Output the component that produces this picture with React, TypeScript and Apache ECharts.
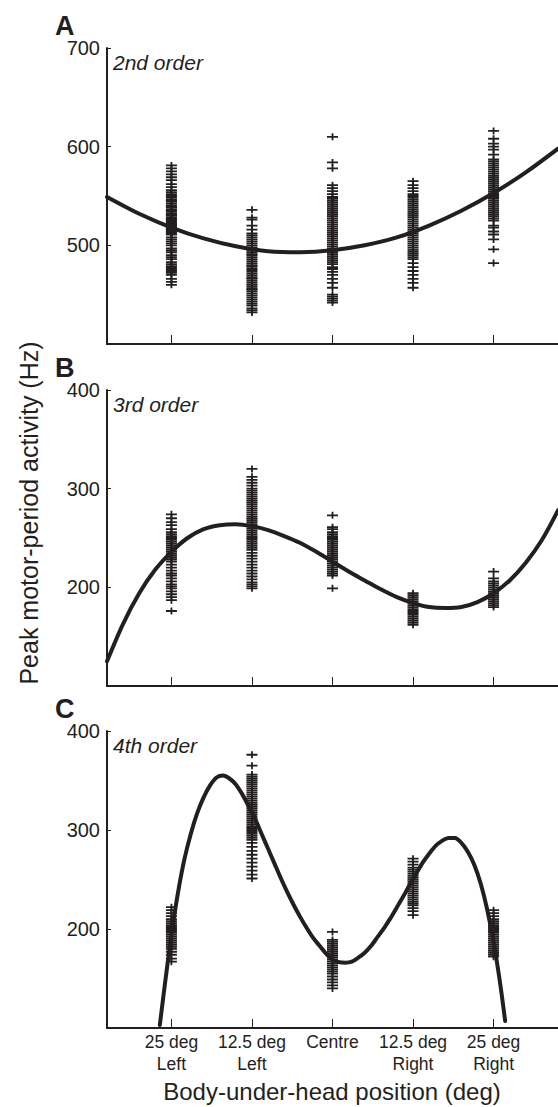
import React, { useEffect, useRef } from "react";
import * as echarts from "echarts";

// x positions (deg, left negative) and their labels
const positionsDeg = [-25, -12.5, 0, 12.5, 25];
const positionLabels = ["25 deg\nLeft", "12.5 deg\nLeft", "Centre", "12.5 deg\nRight", "25 deg\nRight"];

// Panel A (2nd order) raw peaks, Hz
const aLeft25 = [581, 578, 575, 572, 569, 566, 562, 559, 556, 554, 552, 550, 548, 546, 545, 544, 542, 540, 539, 538, 536, 535, 534, 532, 531, 530, 528, 527, 526, 525, 524, 523, 522, 521, 520, 519, 518, 517, 516, 515, 514, 513, 512, 511, 508, 506, 504, 502, 500, 497, 495, 493, 490, 488, 486, 483, 481, 479, 478, 476, 474, 472, 470, 466, 463, 460];
const aLeft12 = [536, 528, 526, 520, 516, 512, 510, 508, 506, 504, 502, 500, 498, 497, 495, 493, 491, 490, 488, 486, 484, 482, 480, 479, 477, 475, 473, 471, 469, 467, 466, 464, 462, 460, 458, 456, 455, 453, 451, 449, 447, 445, 443, 441, 439, 436, 434, 432];
const aCentre = [610, 584, 578, 561, 558, 555, 552, 549, 547, 545, 543, 541, 539, 537, 535, 533, 531, 529, 527, 525, 523, 521, 519, 517, 515, 513, 511, 509, 507, 505, 503, 501, 499, 497, 495, 493, 491, 489, 487, 485, 483, 481, 478, 476, 473, 470, 466, 462, 457, 450, 448, 446, 444, 442];
const aRight12 = [565, 561, 558, 555, 552, 550, 548, 546, 544, 542, 540, 538, 536, 534, 532, 530, 528, 526, 524, 522, 520, 518, 516, 514, 512, 510, 508, 506, 504, 502, 500, 498, 496, 494, 492, 490, 488, 486, 482, 478, 474, 470, 466, 462, 457];
const aRight25 = [616, 608, 603, 600, 597, 592, 587, 585, 583, 581, 579, 577, 575, 573, 571, 569, 567, 565, 563, 561, 559, 557, 555, 553, 551, 549, 547, 545, 543, 541, 539, 537, 535, 533, 531, 529, 527, 525, 520, 518, 514, 511, 506, 496, 482];

// Panel B (3rd order)
const bLeft25 = [274, 270, 266, 263, 259, 256, 254, 252, 250, 248, 246, 244, 242, 240, 238, 236, 234, 232, 230, 228, 226, 223, 220, 217, 214, 212, 209, 206, 203, 201, 199, 196, 193, 190, 187, 176];
const bLeft12 = [320, 312, 309, 306, 303, 300, 298, 296, 294, 292, 290, 288, 286, 284, 282, 280, 278, 276, 274, 272, 270, 268, 266, 264, 262, 260, 258, 256, 254, 252, 250, 248, 246, 244, 242, 240, 238, 235, 232, 229, 226, 223, 220, 217, 214, 211, 208, 205, 203, 201, 199];
const bCentre = [273, 261, 259, 256, 254, 252, 250, 248, 246, 244, 242, 240, 238, 236, 234, 232, 230, 228, 226, 224, 222, 220, 218, 216, 214, 212, 199];
const bRight12 = [194, 192, 190, 188, 186, 184, 182, 180, 178, 176, 174, 172, 170, 168, 166, 164, 162];
const bRight25 = [216, 209, 206, 204, 202, 200, 198, 196, 194, 192, 190, 188, 186, 184, 182, 180];

// Panel C (4th order)
const cLeft25 = [222, 219, 216, 213, 210, 208, 206, 204, 202, 200, 198, 196, 194, 192, 190, 188, 186, 184, 182, 180, 177, 174, 170, 167];
const cLeft12 = [376, 365, 356, 354, 352, 350, 348, 346, 344, 342, 340, 338, 336, 334, 332, 330, 328, 326, 324, 322, 320, 318, 316, 314, 312, 310, 308, 306, 304, 302, 300, 298, 296, 294, 292, 290, 287, 283, 279, 275, 271, 267, 263, 259, 255, 251];
const cCentre = [197, 189, 187, 185, 183, 181, 179, 177, 175, 173, 171, 169, 167, 165, 163, 161, 159, 157, 155, 152, 149, 146, 143, 140];
const cRight12 = [271, 268, 265, 262, 260, 258, 256, 254, 252, 250, 248, 246, 244, 242, 240, 238, 236, 234, 232, 230, 228, 226, 224, 221, 218, 214];
const cRight25 = [219, 216, 213, 210, 208, 206, 204, 202, 200, 198, 196, 194, 192, 190, 188, 186, 184, 182, 180, 178, 176, 174, 172];

// Fitted curves
const curveAX = [-35, -30, -25, -20, -15, -10, -5, 0, 5, 10, 15, 20, 25, 30, 35];
const curveAY = [549, 532, 518, 507, 499, 494, 493, 495, 500, 508, 520, 535, 553, 574, 598];
const curveBX = [-35, -32.5, -30, -27.5, -25, -22.5, -20, -17.5, -15, -12.5, -10, -7.5, -5, -2.5, 0, 2.5, 5, 7.5, 10, 12.5, 15, 17.5, 20, 22.5, 25, 27.5, 30, 32.5, 35];
const curveBY = [125, 163, 194, 218, 236, 250, 259, 263, 264, 262, 258, 252, 245, 236, 226, 216, 207, 198, 190, 184, 180, 179, 180, 185, 194, 207, 225, 248, 278];
const curveCX = [-26.8, -26, -25, -24, -23, -22, -21, -20, -19, -18, -17, -16, -15, -14, -13, -12, -11, -10, -9, -8, -7, -6, -5, -4, -3, -2, -1, 0, 1, 2, 3, 4, 5, 6, 7, 8, 9, 10, 11, 12, 13, 14, 15, 16, 17, 18, 19, 20, 21, 22, 23, 24, 25, 26, 26.8];
const curveCY = [103, 145, 194, 236, 270, 296, 317, 333, 345, 353, 355, 352, 346, 336, 324, 311, 296, 281, 266, 251, 237, 224, 212, 201, 191, 183, 175, 169, 166.5, 166, 167, 171, 176, 183, 192, 201, 211, 222, 233, 245, 256, 267, 276, 284, 289, 292, 292, 287, 278, 265, 246, 220, 187, 146, 107];

const panelTitles = ["2nd order", "3rd order", "4th order"];
const panelLetters = ["A", "B", "C"];
const yMins = [400, 100, 100];
const yMaxs = [700, 400, 400];

const INK = "#231f20";
const FONT = "'Liberation Sans', Arial, Helvetica, sans-serif";
const PLUS = "path://M0,2.6H11V4.4H0Z M4.6,0H6.4V7H4.6Z";

export default function App() {
  const ref = useRef<HTMLDivElement>(null);
  useEffect(() => {
    document.body.style.margin = "0";
    if (!ref.current) return;
    const chart = echarts.init(ref.current, undefined, { renderer: "svg" });

    const grids = [
      { left: 107, top: 48, width: 451, height: 296 },
      { left: 107, top: 390, width: 451, height: 296 },
      { left: 107, top: 731, width: 451, height: 297 },
    ];
    const columnsByPanel = [
      [aLeft25, aLeft12, aCentre, aRight12, aRight25],
      [bLeft25, bLeft12, bCentre, bRight12, bRight25],
      [cLeft25, cLeft12, cCentre, cRight12, cRight25],
    ];
    const curves = [
      [curveAX, curveAY],
      [curveBX, curveBY],
      [curveCX, curveCY],
    ];

    const xAxis = grids.map((_, i) => ({
      type: "value",
      gridIndex: i,
      min: -35,
      max: 35,
      splitLine: { show: false },
      axisLine: { show: true, onZero: false, lineStyle: { color: INK, width: 2 } },
      axisTick: {
        show: true,
        inside: true,
        length: 9,
        customValues: positionsDeg,
        lineStyle: { color: INK, width: 1 },
      },
      axisLabel: {
        show: i === 2,
        customValues: positionsDeg,
        formatter: (v: number) => {
          const k = positionsDeg.indexOf(v);
          return k >= 0 ? positionLabels[k] : "";
        },
        fontFamily: FONT,
        fontSize: 17.5,
        lineHeight: 22,
        color: INK,
        margin: 3,
      },
    }));

    const yAxis = grids.map((_, i) => ({
      type: "value",
      gridIndex: i,
      min: yMins[i],
      max: yMaxs[i],
      interval: 100,
      splitLine: { show: false },
      axisLine: { show: true, onZero: false, lineStyle: { color: INK, width: 2 } },
      axisTick: { show: true, inside: true, length: 4, lineStyle: { color: INK, width: 1 } },
      axisLabel: {
        showMinLabel: false,
        fontFamily: FONT,
        fontSize: 20,
        color: INK,
        margin: 7,
      },
    }));

    const series: any[] = [];
    columnsByPanel.forEach((cols, p) => {
      const pts: number[][] = [];
      cols.forEach((vals, k) => vals.forEach((v) => pts.push([positionsDeg[k], v])));
      series.push({
        type: "scatter",
        xAxisIndex: p,
        yAxisIndex: p,
        data: pts,
        symbol: PLUS,
        symbolSize: [11, 7],
        itemStyle: { color: INK, opacity: 1 },
        z: 2,
        silent: true,
      });
      const [cx, cy] = curves[p];
      series.push({
        type: "line",
        xAxisIndex: p,
        yAxisIndex: p,
        data: cx.map((x, j) => [x, cy[j]]),
        showSymbol: false,
        smooth: 0.3,
        lineStyle: { color: INK, width: 4, cap: "round", join: "round" },
        z: 3,
        silent: true,
      });
    });

    const graphic: any[] = [];
    grids.forEach((g, i) => {
      graphic.push({
        type: "text",
        left: 55,
        top: g.top - 36,
        style: {
          text: panelLetters[i],
          font: `bold 27px ${FONT}`,
          fill: INK,
        },
      });
      graphic.push({
        type: "text",
        x: 113,
        y: g.top + 14.5,
        style: {
          text: panelTitles[i],
          font: `italic 21px ${FONT}`,
          fill: INK,
          textVerticalAlign: "middle",
        },
      });
    });
    graphic.push({
      type: "text",
      x: 29,
      y: 513,
      rotation: Math.PI / 2,
      style: {
        text: "Peak motor-period activity (Hz)",
        font: `25px ${FONT}`,
        fill: INK,
        textAlign: "center",
        textVerticalAlign: "middle",
      },
    });
    graphic.push({
      type: "text",
      x: 332,
      y: 1091,
      style: {
        text: "Body-under-head position (deg)",
        font: `24px ${FONT}`,
        fill: INK,
        textAlign: "center",
        textVerticalAlign: "middle",
      },
    });

    chart.setOption({
      animation: false,
      backgroundColor: "#ffffff",
      grid: grids,
      xAxis,
      yAxis,
      series,
      graphic,
    });
    return () => chart.dispose();
  }, []);
  return <div ref={ref} style={{ width: 558, height: 1107 }} />;
}
